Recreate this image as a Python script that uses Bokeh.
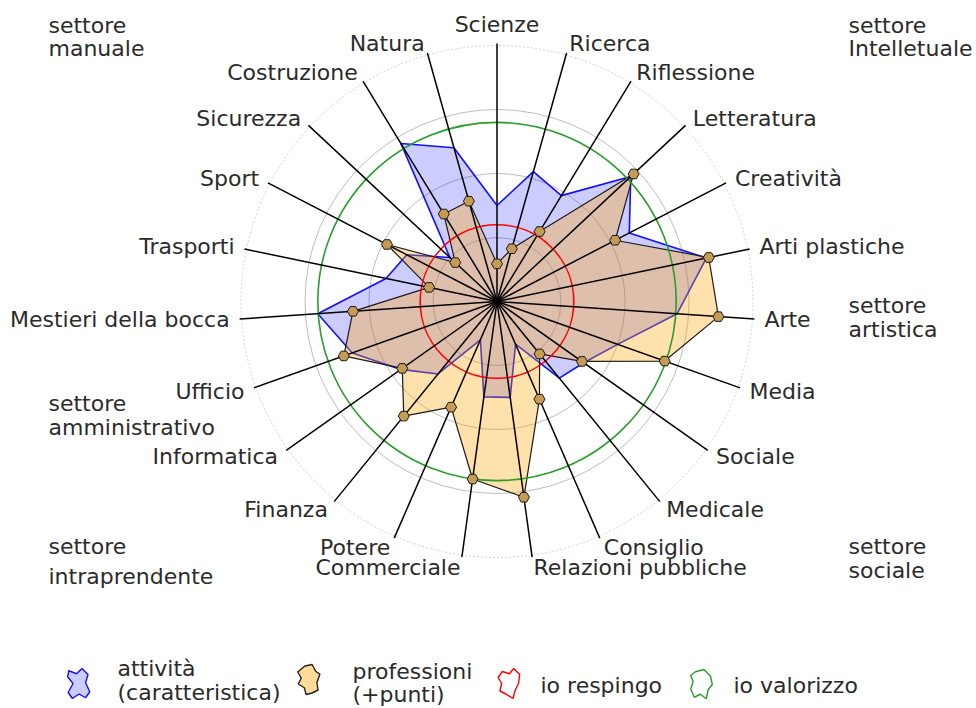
import math
from bokeh.plotting import figure
from bokeh.models import Range1d
from bokeh.core.properties import value
from bokeh.embed import file_html
from bokeh.resources import INLINE

# ---------------- data ----------------
categories = ["Scienze", "Ricerca", "Riflessione", "Letteratura", "Creatività",
              "Arti plastiche", "Arte", "Media", "Sociale", "Medicale", "Consiglio",
              "Relazioni pubbliche", "Commerciale", "Potere", "Finanza", "Informatica",
              "Ufficio", "Mestieri della bocca", "Trasporti", "Sport", "Sicurezza",
              "Costruzione", "Natura"]
attivita = [37.5, 52.7, 48.4, 71.5, 58.2, 83.5, 70.5, 50.0, 41.5, 38.6, 18.2,
            37.8, 37.6, 16.3, 36.5, 46.0, 60.0, 70.2, 44.3, 39.7, 25.2, 72.2, 62.4]
professioni = [14.7, 21.4, 32.0, 73.0, 52.0, 84.5, 86.7, 69.5, 40.6, 26.4, 41.6,
               77.2, 70.0, 45.0, 57.7, 45.3, 63.5, 56.4, 27.1, 48.4, 22.3, 40.0, 40.7]
io_respingo = 30
io_valorizzo = 70
ring_levels = [25, 50, 75, 100]
sector_names = [["settore", "manuale"], ["settore", "Intelletuale"], ["settore", "artistica"],
                ["settore", "amministrativo"], ["settore", "intraprendente"], ["settore", "sociale"]]
legend_labels = [["attività", "(caratteristica)"], ["professioni", "(+punti)"],
                 ["io respingo"], ["io valorizzo"]]

# ---------------- geometry ----------------
W, H = 976, 708
S = 2.56            # pixels per value unit
CX, CY = 496.5, 301.0  # picture position of the centre
OFF = 0

def to_data(xp, yp):
    return ((xp - CX) / S, (CY - yp) / S)

x0, _ = to_data(OFF, 0)
x1, _ = to_data(OFF + W, 0)
_, ytop = to_data(0, OFF)
_, ybot = to_data(0, OFF + H)

p = figure(width=W, height=H, x_range=Range1d(x0, x1), y_range=Range1d(ybot, ytop),
           output_backend="svg", toolbar_location=None,
           x_axis_location=None, y_axis_location=None)
p.grid.grid_line_color = None
p.outline_line_color = None
p.min_border = 0
p.min_border_left = p.min_border_right = p.min_border_top = p.min_border_bottom = 0
p.background_fill_color = "white"
p.border_fill_color = "white"

n = len(categories)
ang = [2 * math.pi * i / n for i in range(n)]
sins = [math.sin(a) for a in ang]
coss = [math.cos(a) for a in ang]

def polar(vals):
    return [v * s for v, s in zip(vals, sins)], [v * c for v, c in zip(vals, coss)]

FONT = value("DejaVu Sans")
TXT = "#2b2b2b"
FS = "22px"

# grid rings
for lv in ring_levels:
    outer = lv == ring_levels[-1]
    p.circle(x=[0], y=[0], radius=[lv], fill_color=None,
             line_color="#d0d0d0" if outer else "#bdbdbd",
             line_width=1, line_dash="2 2" if outer else "solid")

# attività polygon
ax_, ay_ = polar(attivita)
p.patch(ax_, ay_, fill_color="#0000ff", fill_alpha=0.2, line_color="#1010ff", line_width=1.6)

# professioni polygon
px_, py_ = polar(professioni)
p.patch(px_, py_, fill_color="#ffa500", fill_alpha=0.33, line_color="#1a1a1a", line_width=1.2)

# reference circles
p.circle(x=[0], y=[0], radius=[io_respingo], fill_color=None, line_color="#ff0000", line_width=1.6)
p.circle(x=[0], y=[0], radius=[io_valorizzo], fill_color=None, line_color="#2a9d2a", line_width=1.6)

# spokes
LR = 258 / S
p.segment(x0=[0] * n, y0=[0] * n, x1=[LR * s for s in sins], y1=[LR * c for c in coss],
          line_color="#000000", line_width=1.5)

# markers
p.scatter(px_, py_, marker="hex", size=11, fill_color="#c69c54", line_color="#1a1a1a", line_width=1)

# category labels
RL = 268 / S
RTOP = 277 / S
groups = {}
for i, name in enumerate(categories):
    s, c = sins[i], coss[i]
    r = RL
    if s > 0.05:
        al = "left"
    elif s < -0.05:
        al = "right"
    else:
        al = "center"
        r = RTOP
    groups.setdefault(al, ([], [], []))
    groups[al][0].append(r * s)
    groups[al][1].append(r * c)
    groups[al][2].append(name)
for al, (xs, ys, ts) in groups.items():
    p.text(x=xs, y=ys, text=ts, text_align=al, text_baseline="middle",
           text_font=FONT, text_font_size=FS, text_color=TXT)

# sector labels (picture positions of the two lines)
sector_pos = [(48, 25, 48), (848, 25, 48), (848, 305, 329),
              (48, 403, 427), (48, 546, 576), (848, 546, 570)]
for (xp, y1p, y2p), lines in zip(sector_pos, sector_names):
    for yp, t in zip((y1p, y2p), lines):
        dx, dy = to_data(xp, yp)
        p.text(x=[dx], y=[dy], text=[t], text_align="left", text_baseline="middle",
               text_font=FONT, text_font_size=FS, text_color=TXT)

# legend
blob = [(-0.85, -0.85), (-0.2, -0.65), (0.25, -1.0), (0.75, -0.6), (0.55, -0.05),
        (0.9, 0.55), (0.55, 0.95), (0.0, 0.7), (-0.55, 1.0), (-0.9, 0.6),
        (-0.5, 0.0), (-0.95, -0.45)]
blob2 = [(-0.3, -0.9), (0.3, -1.0), (0.6, -0.55), (0.95, -0.35), (0.7, 0.2),
         (0.8, 0.7), (0.3, 0.9), (-0.2, 1.0), (-0.35, 0.55), (-0.85, 0.3),
         (-0.6, -0.1), (-0.9, -0.5)]
blob3 = [(-0.6, -0.8), (0.0, -0.65), (0.35, -1.0), (0.85, -0.6), (0.75, 0.0),
         (0.45, 0.5), (0.3, 1.0), (-0.3, 0.7), (-0.8, 0.5), (-0.65, 0.0),
         (-0.95, -0.4)]
blob4 = [(-0.5, -0.85), (0.2, -1.0), (0.75, -0.55), (0.9, 0.0), (0.55, 0.35),
         (0.4, 0.95), (-0.1, 0.65), (-0.6, 0.85), (-0.9, 0.3), (-0.7, -0.2),
         (-0.9, -0.6)]
icons = [(78.5, 683, blob, "#0000ff", 0.2, "#1010ff"),
         (308, 679, blob2, "#ffa500", 0.4, "#222222"),
         (509, 683, blob3, "white", 1.0, "#ff0000"),
         (701, 684, blob4, "white", 1.0, "#2a9d2a")]
for cxp, cyp, shape, fc, fa, lc in icons:
    xs, ys = [], []
    for u, v in shape:
        dx, dy = to_data(cxp + 12 * u, cyp + 15 * v)
        xs.append(dx)
        ys.append(dy)
    p.patch(xs, ys, fill_color=fc, fill_alpha=fa, line_color=lc, line_width=1.4)

leg_text_pos = [(117, [668, 692]), (352, [671, 694]), (540, [685]), (733, [685])]
for (xp, yps), lines in zip(leg_text_pos, legend_labels):
    for yp, t in zip(yps, lines):
        dx, dy = to_data(xp, yp)
        p.text(x=[dx], y=[dy], text=[t], text_align="left", text_baseline="middle",
               text_font=FONT, text_font_size=FS, text_color=TXT)

open("out.html", "w").write(file_html(p, INLINE))
